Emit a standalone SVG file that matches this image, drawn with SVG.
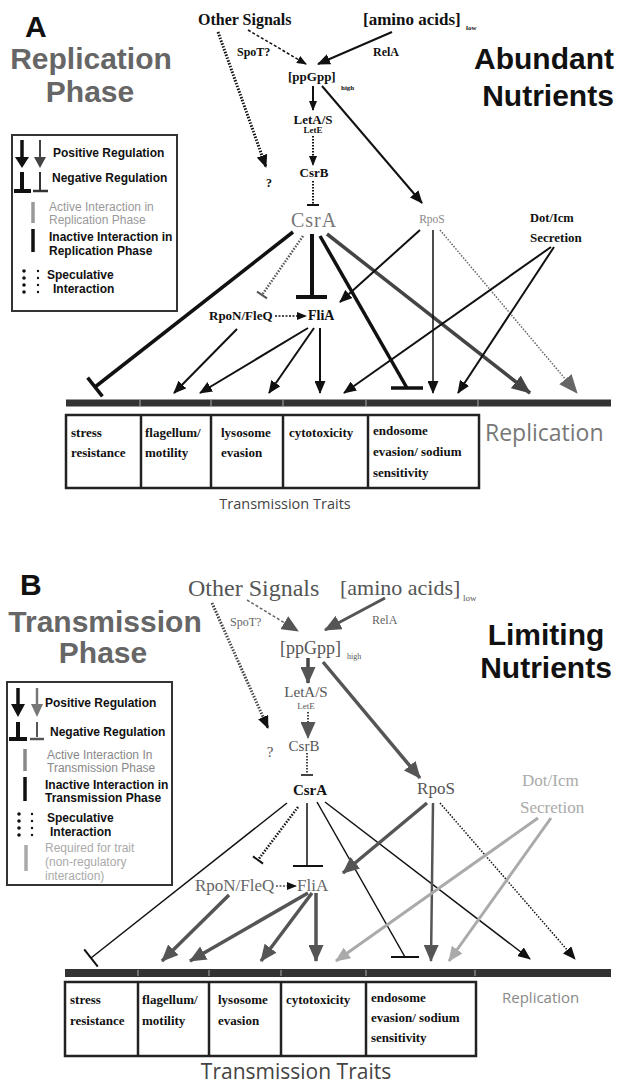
<svg xmlns="http://www.w3.org/2000/svg" width="620" height="1083" viewBox="0 0 620 1083">
<style>
.serif{font-family:"Liberation Serif","Times New Roman",serif}
.sans{font-family:"Liberation Sans",Arial,sans-serif}
.open{font-family:"Open Sans","Liberation Sans",sans-serif}
.b{font-weight:bold}
.title{font-family:"Liberation Sans",Arial,sans-serif;font-weight:bold;font-size:30px}
.leg{font-family:"Liberation Sans",Arial,sans-serif;font-size:12px}
.legr{font-family:"Liberation Sans",Arial,sans-serif;font-size:12px}
.cell{font-family:"Liberation Serif","Times New Roman",serif;font-weight:bold;font-size:13px}
.ln{fill:none;stroke-linecap:butt}
</style>
<defs>
<marker id="aS" markerUnits="userSpaceOnUse" viewBox="0 0 10 8" markerWidth="10" markerHeight="8" refX="9" refY="4" orient="auto"><path d="M0,0 L10,4 L0,8 z" fill="#111"/></marker>
<marker id="aM" markerUnits="userSpaceOnUse" viewBox="0 0 13 11" markerWidth="13" markerHeight="11" refX="12" refY="5.5" orient="auto"><path d="M0,0 L13,5.5 L0,11 z" fill="#111"/></marker>
<marker id="aBigD" markerUnits="userSpaceOnUse" viewBox="0 0 19 16" markerWidth="19" markerHeight="16" refX="18" refY="8" orient="auto"><path d="M0,0 L19,8 L0,16 z" fill="#444"/></marker>
<marker id="aBigG" markerUnits="userSpaceOnUse" viewBox="0 0 19 16" markerWidth="19" markerHeight="16" refX="18" refY="8" orient="auto"><path d="M0,0 L19,8 L0,16 z" fill="#666"/></marker>
<marker id="aG" markerUnits="userSpaceOnUse" viewBox="0 0 17 15" markerWidth="17" markerHeight="15" refX="16" refY="7.5" orient="auto"><path d="M0,0 L17,7.5 L0,15 z" fill="#555"/></marker>
<marker id="aL" markerUnits="userSpaceOnUse" viewBox="0 0 15 13" markerWidth="15" markerHeight="13" refX="14" refY="6.5" orient="auto"><path d="M0,0 L15,6.5 L0,13 z" fill="#aaa"/></marker>
<marker id="aB" markerUnits="userSpaceOnUse" viewBox="0 0 13 11" markerWidth="13" markerHeight="11" refX="12" refY="5.5" orient="auto"><path d="M0,0 L13,5.5 L0,11 z" fill="#111"/></marker>
</defs>
<rect width="620" height="1083" fill="#fff"/>

<!-- ================= PANEL A ================= -->
<g id="titleA">
<text x="25" y="37" class="title" fill="#111">A</text>
<text x="91" y="69" class="title" fill="#666" text-anchor="middle">Replication</text>
<text x="90" y="102" class="title" fill="#666" text-anchor="middle">Phase</text>
<text x="544" y="69" class="title" fill="#111" text-anchor="middle">Abundant</text>
<text x="548" y="106" class="title" fill="#111" text-anchor="middle">Nutrients</text>
</g>

<g id="legendA">
<rect x="12" y="135" width="165" height="176" fill="none" stroke="#333" stroke-width="2"/>
<line x1="22" y1="140" x2="22" y2="159" stroke="#111" stroke-width="3.5"/>
<polygon points="15,157 29,157 22,168" fill="#111"/>
<line x1="40" y1="140" x2="40" y2="159" stroke="#444" stroke-width="2"/>
<polygon points="34,157 46,157 40,168" fill="#444"/>
<text x="53" y="157" class="leg b" fill="#111">Positive Regulation</text>
<line x1="22" y1="172" x2="22" y2="190" stroke="#111" stroke-width="4"/>
<line x1="14" y1="191" x2="31" y2="191" stroke="#111" stroke-width="4"/>
<line x1="40" y1="172" x2="40" y2="190" stroke="#333" stroke-width="2"/>
<line x1="33" y1="191" x2="48" y2="191" stroke="#333" stroke-width="2.5"/>
<text x="52" y="182" class="leg b" fill="#111">Negative Regulation</text>
<line x1="33" y1="202" x2="33" y2="223" stroke="#999" stroke-width="3.5"/>
<text x="49" y="211" class="legr" fill="#999">Active Interaction in</text>
<text x="49" y="224" class="legr" fill="#999">Replication Phase</text>
<line x1="33" y1="229" x2="33" y2="252" stroke="#111" stroke-width="3.5"/>
<text x="49" y="241" class="leg b" fill="#111">Inactive Interaction in</text>
<text x="49" y="255" class="leg b" fill="#111">Replication Phase</text>
<g fill="#111">
<circle cx="24" cy="271" r="1.8"/><circle cx="24" cy="278" r="1.8"/><circle cx="24" cy="285" r="1.8"/><circle cx="24" cy="292" r="1.8"/>
<circle cx="38" cy="271" r="1.2"/><circle cx="38" cy="278" r="1.2"/><circle cx="38" cy="285" r="1.2"/><circle cx="38" cy="292" r="1.2"/>
</g>
<text x="47" y="279" class="leg b" fill="#111">Speculative</text>
<text x="53" y="293" class="leg b" fill="#111">Interaction</text>
</g>

<g id="nodesA" class="serif">
<g id="A-otherSignals"><text x="198" y="25" class="b" font-size="16" fill="#111">Other Signals</text></g>
<g id="A-aminoAcids"><text x="363" y="25" class="b" font-size="17" fill="#111">[amino acids]</text><text x="466" y="30" class="b" font-size="7" fill="#111">low</text></g>
<g id="A-spoT"><text x="237" y="56" class="b" font-size="12" fill="#111">SpoT?</text></g>
<g id="A-relA"><text x="373" y="56" class="b" font-size="12" fill="#111">RelA</text></g>
<g id="A-ppGpp"><text x="288" y="81" class="b" font-size="13" fill="#111">[ppGpp]</text><text x="341" y="90" class="b" font-size="7" fill="#111">high</text></g>
<g id="A-letAS"><text x="313" y="124" class="b" font-size="13" fill="#111" text-anchor="middle">LetA/S</text><text x="313" y="133" class="b" font-size="9" fill="#111" text-anchor="middle">LetE</text></g>
<g id="A-csrB"><text x="314" y="177" class="b" font-size="13" fill="#111" text-anchor="middle">CsrB</text></g>
<g id="A-q"><text x="269" y="187" class="b" font-size="12" fill="#111" text-anchor="middle">?</text></g>
<g id="A-csrA"><text x="314" y="227" font-size="20" fill="#777" text-anchor="middle" letter-spacing="1">CsrA</text></g>
<g id="A-rpoS"><text x="432" y="223" font-size="11.5" fill="#888" text-anchor="middle">RpoS</text></g>
<g id="A-dotIcm"><text x="530" y="222" class="b" font-size="12.5" fill="#111">Dot/Icm</text><text x="530" y="242" class="b" font-size="13" fill="#111">Secretion</text></g>
<g id="A-rpoN"><text x="209" y="320" class="b" font-size="13" fill="#111">RpoN/FleQ</text></g>
<g id="A-fliA"><text x="308" y="320" class="b" font-size="14" fill="#111">FliA</text></g>
</g>

<g id="traitsA">
<line x1="66" y1="403" x2="611" y2="403" stroke="#333" stroke-width="7"/>
<g stroke="#999" stroke-width="1.2"><line x1="140" y1="400" x2="140" y2="406"/><line x1="211" y1="400" x2="211" y2="406"/><line x1="283" y1="400" x2="283" y2="406"/><line x1="366" y1="400" x2="366" y2="406"/><line x1="478" y1="400" x2="478" y2="406"/></g>
<rect x="66" y="415" width="413" height="73" fill="none" stroke="#222" stroke-width="2.5"/>
<g stroke="#222" stroke-width="2.5"><line x1="141" y1="415" x2="141" y2="488"/><line x1="211" y1="415" x2="211" y2="488"/><line x1="283" y1="415" x2="283" y2="488"/><line x1="368" y1="415" x2="368" y2="488"/></g>
<g class="cell" fill="#111">
<text x="71" y="437">stress</text><text x="71" y="457">resistance</text>
<text x="145" y="437">flagellum/</text><text x="145" y="457">motility</text>
<text x="221" y="437">lysosome</text><text x="221" y="457">evasion</text>
<text x="289" y="437">cytotoxicity</text>
<text x="373" y="435">endosome</text><text x="373" y="456">evasion/ sodium</text><text x="373" y="477">sensitivity</text>
</g>
<text x="485" y="441" class="open" font-size="23" fill="#777">Replication</text>
<text x="285" y="509" class="open" font-size="14.5" fill="#444" text-anchor="middle">Transmission Traits</text>
</g>

<g id="connectorsA" class="ln">
<line x1="218" y1="32" x2="266" y2="167" stroke="#111" stroke-width="3" stroke-dasharray="1.5,1.5" marker-end="url(#aM)"/>
<line x1="248" y1="30" x2="306" y2="64" stroke="#111" stroke-width="1.5" stroke-dasharray="3,2" marker-end="url(#aS)"/>
<line x1="392" y1="32" x2="318" y2="64" stroke="#111" stroke-width="2" marker-end="url(#aM)"/>
<line x1="313" y1="86" x2="313" y2="110" stroke="#111" stroke-width="2" marker-end="url(#aS)"/>
<line x1="313" y1="136" x2="313" y2="165" stroke="#111" stroke-width="2" stroke-dasharray="1.5,1.5" marker-end="url(#aS)"/>
<line x1="313" y1="181" x2="313" y2="205" stroke="#111" stroke-width="2" stroke-dasharray="1.5,1.5"/>
<line x1="307" y1="205" x2="319" y2="205" stroke="#111" stroke-width="2"/>
<line x1="322" y1="86" x2="422" y2="203" stroke="#111" stroke-width="2" marker-end="url(#aM)"/>
<line x1="293" y1="232" x2="95" y2="387" stroke="#111" stroke-width="3.5"/>
<line x1="87.6" y1="377.6" x2="102.4" y2="396.4" stroke="#111" stroke-width="3.5"/>
<line x1="303" y1="236" x2="262" y2="295" stroke="#555" stroke-width="2.5" stroke-dasharray="1.5,1.5"/>
<line x1="257" y1="291.6" x2="267" y2="298.4" stroke="#555" stroke-width="2"/>
<line x1="312" y1="234" x2="312" y2="297" stroke="#111" stroke-width="4"/>
<line x1="296" y1="297" x2="327" y2="297" stroke="#111" stroke-width="4"/>
<line x1="320" y1="236" x2="407" y2="388" stroke="#111" stroke-width="3.5"/>
<line x1="391" y1="388" x2="423" y2="388" stroke="#111" stroke-width="3.5"/>
<line x1="327" y1="234" x2="530" y2="393" stroke="#444" stroke-width="3.5" marker-end="url(#aBigD)"/>
<line x1="420" y1="230" x2="340" y2="302" stroke="#111" stroke-width="2" marker-end="url(#aM)"/>
<line x1="433" y1="230" x2="433" y2="393" stroke="#111" stroke-width="1.5" marker-end="url(#aM)"/>
<line x1="440" y1="230" x2="577" y2="393" stroke="#666" stroke-width="1.5" stroke-dasharray="1.5,1.5" marker-end="url(#aBigG)"/>
<line x1="551" y1="247" x2="344" y2="393" stroke="#111" stroke-width="2" marker-end="url(#aM)"/>
<line x1="554" y1="247" x2="458" y2="393" stroke="#111" stroke-width="2" marker-end="url(#aM)"/>
<line x1="275" y1="316" x2="306" y2="316" stroke="#111" stroke-width="1.5" stroke-dasharray="2,1.5" marker-end="url(#aS)"/>
<line x1="237" y1="329" x2="174" y2="393" stroke="#111" stroke-width="2" marker-end="url(#aM)"/>
<line x1="308" y1="328" x2="200" y2="393" stroke="#111" stroke-width="2" marker-end="url(#aM)"/>
<line x1="314" y1="328" x2="269" y2="393" stroke="#111" stroke-width="2" marker-end="url(#aM)"/>
<line x1="320" y1="328" x2="320" y2="393" stroke="#111" stroke-width="2" marker-end="url(#aM)"/>
</g>

<!-- ================= PANEL B ================= -->
<g id="titleB">
<text x="20" y="595" class="title" fill="#111">B</text>
<text x="105" y="632" class="title" fill="#666" text-anchor="middle">Transmission</text>
<text x="103" y="663" class="title" fill="#666" text-anchor="middle">Phase</text>
<text x="546" y="645" class="title" fill="#111" text-anchor="middle">Limiting</text>
<text x="546" y="678" class="title" fill="#111" text-anchor="middle">Nutrients</text>
</g>

<g id="legendB">
<rect x="7" y="682" width="165" height="203" fill="none" stroke="#333" stroke-width="2"/>
<line x1="18" y1="688" x2="18" y2="706" stroke="#111" stroke-width="3.5"/>
<polygon points="11,704 25,704 18,717" fill="#111"/>
<line x1="37" y1="688" x2="37" y2="706" stroke="#777" stroke-width="2.5"/>
<polygon points="31,704 43,704 37,717" fill="#777"/>
<text x="45" y="707" class="leg b" fill="#111">Positive Regulation</text>
<line x1="18" y1="722" x2="18" y2="737" stroke="#111" stroke-width="4"/>
<line x1="9" y1="739" x2="27" y2="739" stroke="#111" stroke-width="4"/>
<line x1="37" y1="722" x2="37" y2="737" stroke="#555" stroke-width="2"/>
<line x1="30" y1="739" x2="44" y2="739" stroke="#555" stroke-width="2.5"/>
<text x="50" y="736" class="leg b" fill="#111">Negative Regulation</text>
<line x1="25" y1="749" x2="25" y2="771" stroke="#888" stroke-width="3.5"/>
<text x="47" y="759" class="legr" fill="#888">Active Interaction In</text>
<text x="47" y="772" class="legr" fill="#888">Transmission Phase</text>
<line x1="25" y1="777" x2="25" y2="801" stroke="#111" stroke-width="3.5"/>
<text x="45" y="789" class="leg b" fill="#111">Inactive Interaction in</text>
<text x="45" y="802" class="leg b" fill="#111">Transmission Phase</text>
<g fill="#111">
<circle cx="19" cy="814" r="1.8"/><circle cx="19" cy="821" r="1.8"/><circle cx="19" cy="828" r="1.8"/><circle cx="19" cy="835" r="1.8"/>
<circle cx="32" cy="814" r="1.2"/><circle cx="32" cy="821" r="1.2"/><circle cx="32" cy="828" r="1.2"/><circle cx="32" cy="835" r="1.2"/>
</g>
<text x="47" y="822" class="leg b" fill="#111">Speculative</text>
<text x="50" y="836" class="leg b" fill="#111">Interaction</text>
<line x1="26" y1="845" x2="26" y2="871" stroke="#aaa" stroke-width="3.5"/>
<text x="45" y="852" class="legr" fill="#aaa">Required for trait</text>
<text x="45" y="866" class="legr" fill="#aaa">(non-regulatory</text>
<text x="45" y="880" class="legr" fill="#aaa">interaction)</text>
</g>

<g id="nodesB" class="serif">
<g id="B-otherSignals"><text x="188" y="596" font-size="24" fill="#555">Other Signals</text></g>
<g id="B-aminoAcids"><text x="340" y="595" font-size="22" fill="#555">[amino acids]</text><text x="463" y="601" font-size="9" fill="#555">low</text></g>
<g id="B-spoT"><text x="230" y="626" font-size="12" fill="#666">SpoT?</text></g>
<g id="B-relA"><text x="372" y="624" font-size="12" fill="#666">RelA</text></g>
<g id="B-ppGpp"><text x="280" y="654" font-size="18" fill="#555">[ppGpp]</text><text x="347" y="659" font-size="8" fill="#555">high</text></g>
<g id="B-letAS"><text x="306" y="697" font-size="15" fill="#555" text-anchor="middle">LetA/S</text><text x="306" y="709" font-size="9" fill="#555" text-anchor="middle">LetE</text></g>
<g id="B-csrB"><text x="304" y="751" font-size="15" fill="#555" text-anchor="middle">CsrB</text></g>
<g id="B-q"><text x="270" y="757" font-size="15" fill="#555" text-anchor="middle">?</text></g>
<g id="B-csrA"><text x="310" y="795" class="b" font-size="15" fill="#111" text-anchor="middle">CsrA</text></g>
<g id="B-rpoS"><text x="436" y="794" font-size="17" fill="#555" text-anchor="middle">RpoS</text></g>
<g id="B-dotIcm"><text x="522" y="786" font-size="17" fill="#aaa">Dot/Icm</text><text x="520" y="813" font-size="17" fill="#aaa">Secretion</text></g>
<g id="B-rpoN"><text x="195" y="891" font-size="17" fill="#666">RpoN/FleQ</text></g>
<g id="B-fliA"><text x="297" y="891" font-size="17" fill="#666">FliA</text></g>
</g>

<g id="traitsB">
<line x1="65" y1="973" x2="611" y2="973" stroke="#333" stroke-width="8"/>
<g stroke="#999" stroke-width="1.2"><line x1="138" y1="970" x2="138" y2="976"/><line x1="209" y1="970" x2="209" y2="976"/><line x1="281" y1="970" x2="281" y2="976"/><line x1="366" y1="970" x2="366" y2="976"/><line x1="475" y1="970" x2="475" y2="976"/></g>
<rect x="65" y="982" width="411" height="74" fill="none" stroke="#222" stroke-width="2.5"/>
<g stroke="#222" stroke-width="2.5"><line x1="138" y1="982" x2="138" y2="1056"/><line x1="209" y1="982" x2="209" y2="1056"/><line x1="281" y1="982" x2="281" y2="1056"/><line x1="366" y1="982" x2="366" y2="1056"/></g>
<g class="cell" fill="#111">
<text x="70" y="1004">stress</text><text x="70" y="1025">resistance</text>
<text x="142" y="1004">flagellum/</text><text x="142" y="1025">motility</text>
<text x="218" y="1004">lysosome</text><text x="218" y="1025">evasion</text>
<text x="286" y="1004">cytotoxicity</text>
<text x="371" y="1002">endosome</text><text x="371" y="1022">evasion/ sodium</text><text x="371" y="1042">sensitivity</text>
</g>
<text x="502" y="1003" class="open" font-size="15" fill="#888">Replication</text>
<text x="296" y="1079" class="open" font-size="21" fill="#444" text-anchor="middle">Transmission Traits</text>
</g>

<g id="connectorsB" class="ln">
<line x1="212" y1="603" x2="268" y2="728" stroke="#444" stroke-width="3" stroke-dasharray="1.5,1.5" marker-end="url(#aM)"/>
<line x1="247" y1="600" x2="298" y2="631" stroke="#666" stroke-width="1.5" stroke-dasharray="3,2" marker-end="url(#aG)"/>
<line x1="385" y1="598" x2="325" y2="630" stroke="#555" stroke-width="3" marker-end="url(#aG)"/>
<line x1="308" y1="658" x2="308" y2="683" stroke="#444" stroke-width="3.5" marker-end="url(#aG)"/>
<line x1="308" y1="712" x2="308" y2="738" stroke="#444" stroke-width="2" stroke-dasharray="1.5,1.5" marker-end="url(#aG)"/>
<line x1="307" y1="753" x2="307" y2="775" stroke="#444" stroke-width="2" stroke-dasharray="1.5,1.5"/>
<line x1="301" y1="775" x2="313" y2="775" stroke="#444" stroke-width="2"/>
<line x1="323" y1="662" x2="420" y2="778" stroke="#555" stroke-width="3.5" marker-end="url(#aG)"/>
<line x1="287" y1="803" x2="91" y2="958" stroke="#111" stroke-width="1.5"/>
<line x1="84.2" y1="949.4" x2="97.8" y2="966.6" stroke="#111" stroke-width="2"/>
<line x1="298" y1="807" x2="258" y2="860" stroke="#111" stroke-width="2.5" stroke-dasharray="1.5,1.5"/>
<line x1="253" y1="856.4" x2="263" y2="863.6" stroke="#111" stroke-width="2"/>
<line x1="307" y1="803" x2="307" y2="866" stroke="#111" stroke-width="1.5"/>
<line x1="293" y1="866" x2="323" y2="866" stroke="#111" stroke-width="2"/>
<line x1="317" y1="802" x2="405" y2="957" stroke="#111" stroke-width="1.5"/>
<line x1="391" y1="957" x2="419" y2="957" stroke="#111" stroke-width="2"/>
<line x1="325" y1="802" x2="530" y2="959" stroke="#111" stroke-width="1.5" marker-end="url(#aB)"/>
<line x1="427" y1="803" x2="343" y2="873" stroke="#555" stroke-width="3.5" marker-end="url(#aG)"/>
<line x1="433" y1="803" x2="431" y2="961" stroke="#555" stroke-width="2.5" marker-end="url(#aG)"/>
<line x1="440" y1="803" x2="575" y2="959" stroke="#111" stroke-width="1.5" stroke-dasharray="1.5,1.5" marker-end="url(#aB)"/>
<line x1="538" y1="818" x2="336" y2="961" stroke="#aaa" stroke-width="3" marker-end="url(#aL)"/>
<line x1="551" y1="818" x2="449" y2="961" stroke="#aaa" stroke-width="3" marker-end="url(#aL)"/>
<line x1="276" y1="886" x2="296" y2="886" stroke="#555" stroke-width="1.5" stroke-dasharray="2,1.5" marker-end="url(#aS)"/>
<line x1="229" y1="895" x2="162" y2="961" stroke="#555" stroke-width="3.5" marker-end="url(#aG)"/>
<line x1="308" y1="893" x2="190" y2="961" stroke="#555" stroke-width="3.5" marker-end="url(#aG)"/>
<line x1="312" y1="893" x2="261" y2="961" stroke="#555" stroke-width="3.5" marker-end="url(#aG)"/>
<line x1="316" y1="893" x2="316" y2="961" stroke="#555" stroke-width="3.5" marker-end="url(#aG)"/>
</g>
</svg>
